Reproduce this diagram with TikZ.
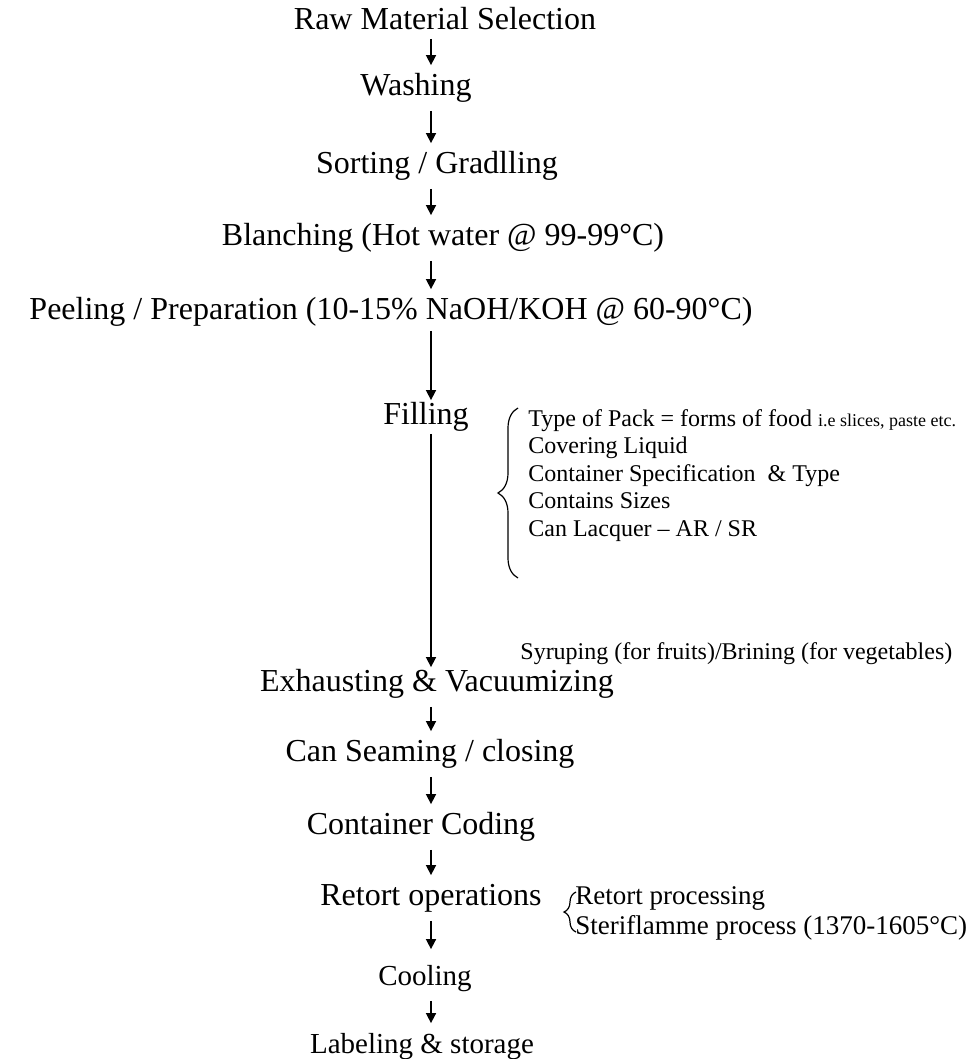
\documentclass[tikz,border=0pt]{standalone}
\usepackage{fontspec}
\setmainfont{Liberation Serif}
\usetikzlibrary{arrows.meta,decorations.pathreplacing}
\tikzset{
  stepnode/.style={inner sep=1pt, text height=11pt, text depth=3.5pt, font=\fontsize{16}{19}\selectfont},
  smallstep/.style={stepnode, font=\fontsize{14.5}{17}\selectfont},
  note/.style={inner sep=0pt, anchor=west, align=left, font=\fontsize{12}{13.75}\selectfont},
  retnote/.style={note, font=\fontsize{13.5}{15}\selectfont},
  flow/.style={-{Triangle[length=5pt,width=5pt]}, line width=0.8pt, shorten <=3pt, shorten >=3pt},
  curly/.style={decorate, decoration={brace, amplitude=#1}, line width=0.6pt}
}

\begin{document}
\begin{tikzpicture}[x=0.5pt, y=-0.5pt]
\useasboundingbox (0,0) rectangle (972,1059);
\coordinate (axis) at (431,0);

% main steps
\node[stepnode] (raw) at (445,22) {Raw Material Selection};
\node[stepnode] (wash) at (416,88) {Washing};
\node[stepnode] (sort) at (437,166) {Sorting / Gradlling};
\node[stepnode] (blanch) at (443,238) {Blanching (Hot water @ 99-99°C)};
\node[stepnode] (peel) at (391,312) {Peeling / Preparation (10-15\% NaOH/KOH @ 60-90°C)};
\node[stepnode] (fill) at (426,417) {Filling};
\node[stepnode] (exh) at (437,684) {Exhausting \& Vacuumizing};
\node[stepnode] (seam) at (430,754) {Can Seaming / closing};
\node[stepnode] (code) at (421,827) {Container Coding};
\node[stepnode] (retort) at (431,898) {Retort operations};
\node[smallstep] (cool) at (425,978) {Cooling};
\node[smallstep] (label) at (422,1046) {Labeling \& storage};

% side notes
\node[note, anchor=north west] (packs) at (528,409) {Type of Pack = forms of food {\fontsize{9}{10}\selectfont i.e slices, paste etc.}\\
  Covering Liquid\\
  Container Specification \ \& Type\\
  Contains Sizes\\
  Can Lacquer -- AR / SR};
\node[note] (syrup) at (520,654) {Syruping (for fruits)/Brining (for vegetables)};
\node[retnote] (rproc) at (575,898) {Retort processing};
\node[retnote] (sflame) at (575,928) {Steriflamme process (1370-1605°C)};

% braces
\coordinate (fbtop) at (518,408);
\coordinate (fbbot) at (518,578);
\draw[curly=10pt] (fbbot) -- (fbtop);
\coordinate (rbtop) at (576,892);
\coordinate (rbbot) at (576,932);
\draw[curly=6pt] (rbbot) -- (rbtop);

% arrows
\draw[flow, shorten <=0pt] (raw.south -| axis) -- (wash.north -| axis);
\draw[flow] (wash.south -| axis) -- (sort.north -| axis);
\draw[flow] (sort.south -| axis) -- (blanch.north -| axis);
\draw[flow] (blanch.south -| axis) -- (peel.north -| axis);
\draw[flow, shorten <=1pt, shorten >=0pt] (peel.south -| axis) -- (fill.north -| axis);
\draw[flow, shorten <=0pt, shorten >=0pt] (fill.south -| axis) -- (exh.north -| axis);
\draw[flow] (exh.south -| axis) -- (seam.north -| axis);
\draw[flow] (seam.south -| axis) -- (code.north -| axis);
\draw[flow] (code.south -| axis) -- (retort.north -| axis);
\draw[flow, shorten >=6pt] (retort.south -| axis) -- (cool.north -| axis);
\draw[flow] (cool.south -| axis) -- (label.north -| axis);
\end{tikzpicture}
\end{document}
